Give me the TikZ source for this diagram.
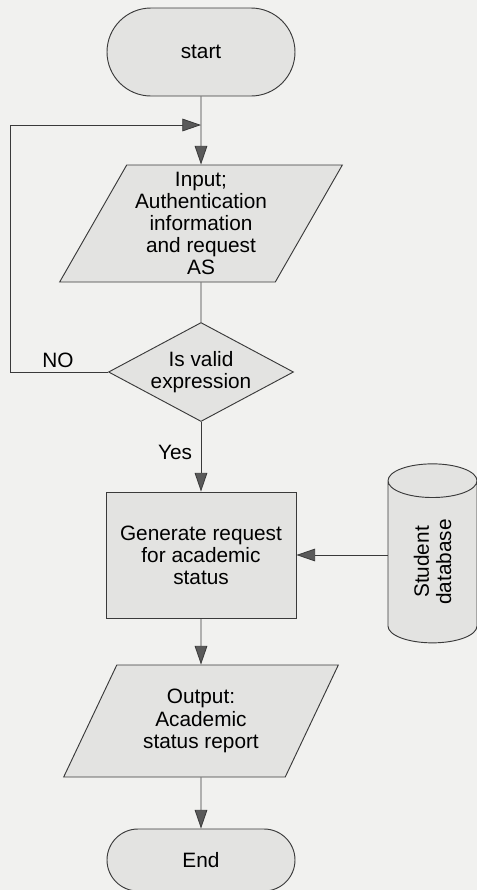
\documentclass[tikz,border=0pt]{standalone}
\usepackage{fontspec}
\setmainfont{Liberation Sans}
\usetikzlibrary{shapes.geometric,shapes.misc,arrows.meta}
\definecolor{paper}{HTML}{F1F1EF}
\definecolor{boxfill}{HTML}{E3E3E1}
\definecolor{edge}{HTML}{3A3A3A}
\definecolor{tipfill}{HTML}{5A5A5A}
\begin{document}
\begin{tikzpicture}[x=0.75pt,y=-0.75pt,
  base/.style={draw=edge, line width=0.7pt, fill=boxfill, text=black,
    font=\fontsize{15.6}{16.6}\selectfont, align=center, inner sep=0pt},
  terminal/.style={base, rounded rectangle, minimum width=141pt},
  io/.style={base, trapezium, trapezium left angle=60, trapezium right angle=120,
    trapezium stretches=true},
  decision/.style={base, diamond, aspect=1.87, minimum width=138.75pt, minimum height=74.25pt},
  process/.style={base, rectangle, minimum width=142.5pt, minimum height=94.5pt},
  store/.style={base, cylinder, rotate=90, aspect=0.9,
    minimum width=66.75pt, minimum height=134.25pt},
  link/.style={draw=edge, line width=0.6pt},
  flow/.style={link, -{Triangle[length=14pt,width=9.5pt,fill=tipfill]}},
  tag/.style={font=\fontsize{15.6}{16.6}\selectfont, inner sep=0pt}]

% paper
\fill[paper] (0,0) rectangle (477,890);
\useasboundingbox (0,0) rectangle (477,890);

% main column
\node[terminal, minimum height=66pt] (start) at (201,52) {start};
\node[io, minimum width=212.25pt, minimum height=87.75pt] (input) at (201,223.5)
  {Input;\\Authentication\\information\\and request\\AS};
\node[decision] (valid) at (201,372) {Is valid\\expression};
\node[process] (gen) at (201,555) {Generate request\\for academic\\status};
\node[io, minimum width=206.25pt, minimum height=84pt] (report) at (201,721)
  {Output:\\Academic\\status report};
\node[terminal, minimum height=46.5pt] (end) at (201,860) {End};

% data store
\node[store] (db) at (432.5,562) {Student\\database};

% loop-back path
\coordinate (corner) at (10,125);
\coordinate (join) at (201,125);

% connectors
\draw[flow] (start) -- (input);
\draw[flow] (valid.west) -| (corner) -- (join);
\draw[link] (input) -- (valid);
\draw[flow] (valid) -- (gen);
\draw[flow] (db.north |- gen.east) -- (gen.east);
\draw[flow] (gen) -- (report);
\draw[flow] (report) -- (end);

% branch labels
\node[tag] (no) at (58,360) {NO};
\node[tag] (yes) at (175,452) {Yes};
\end{tikzpicture}
\end{document}
